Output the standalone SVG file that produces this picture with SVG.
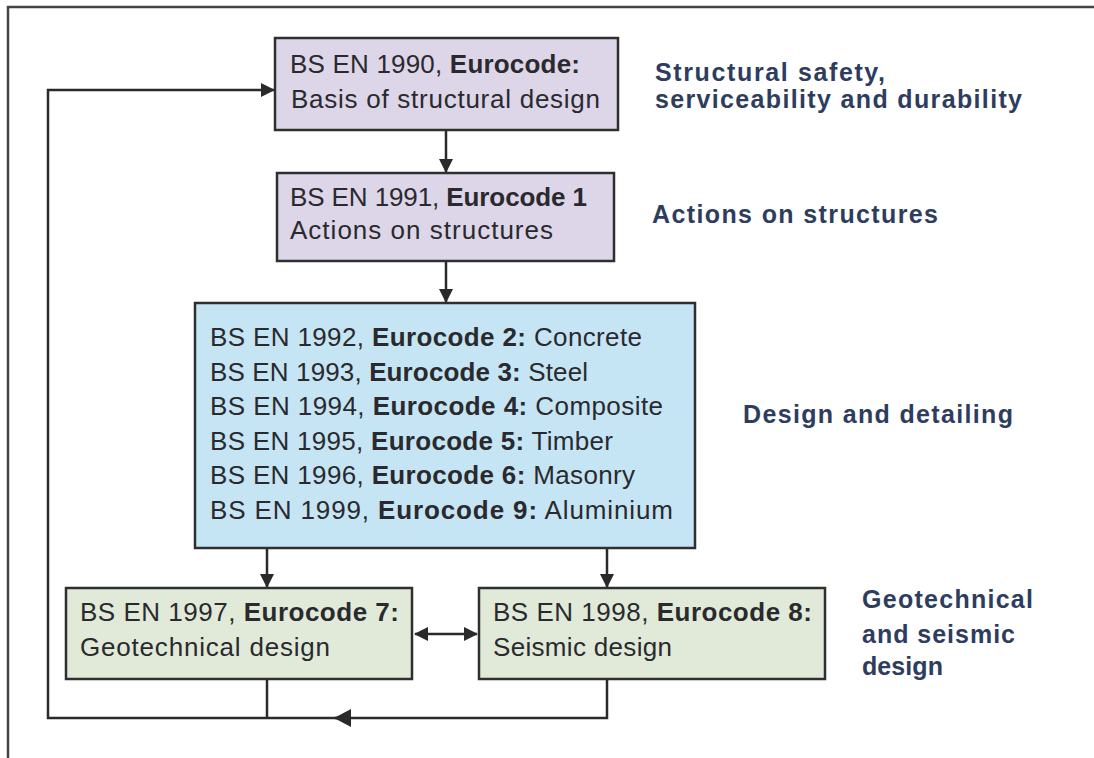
<svg xmlns="http://www.w3.org/2000/svg" width="1094" height="758" viewBox="0 0 1094 758">
<defs>
<style>
.box{stroke:#2f2f2f;stroke-width:2.5}
.t{font-family:"Liberation Sans",Arial,sans-serif;font-size:26px;fill:#2a2a2e}
.b{font-weight:bold}
.lbl{font-family:"Liberation Sans",Arial,sans-serif;font-size:25px;font-weight:bold;fill:#2e3d5e}
.ln{fill:none;stroke:#2a2a2a;stroke-width:2.5}
</style>
<marker id="ah" viewBox="0 0 14 14" refX="13" refY="7" markerWidth="14" markerHeight="14" markerUnits="userSpaceOnUse" orient="auto-start-reverse">
<path d="M0,0 L14,7 L0,14 Z" fill="#2a2a2a"/>
</marker>
</defs>
<rect x="0" y="0" width="1094" height="758" fill="#ffffff"/>
<g id="frame">
<path d="M8,758 V7 H1094" fill="none" stroke="#444" stroke-width="2.5"/>
</g>
<g id="connectors">
<path class="ln" d="M446,131 V172" marker-end="url(#ah)"/>
<path class="ln" d="M446,262 V302" marker-end="url(#ah)"/>
<path class="ln" d="M267,549 V587" marker-end="url(#ah)"/>
<path class="ln" d="M607,549 V587" marker-end="url(#ah)"/>
<path class="ln" d="M415,634 H477" marker-start="url(#ah)" marker-end="url(#ah)"/>
<path class="ln" d="M267,679 V718"/>
<path class="ln" d="M607,679 V718 H335"/>
<path d="M334,718 L351,709 L351,727 Z" fill="#2a2a2a"/>
<path class="ln" d="M351,718 H48 V90 H274" marker-end="url(#ah)"/>
</g>
<g id="n1990">
<rect class="box" x="275" y="38" width="343" height="92" fill="#dcd6e8"/>
<text class="t" x="290" y="73" textLength="290" lengthAdjust="spacing">BS EN 1990, <tspan class="b">Eurocode:</tspan></text>
<text class="t" x="291" y="108" textLength="309" lengthAdjust="spacing">Basis of structural design</text>
</g>
<g id="n1991">
<rect class="box" x="277" y="173" width="337" height="88" fill="#dcd6e8"/>
<text class="t" x="290" y="206" textLength="297" lengthAdjust="spacing">BS EN 1991, <tspan class="b">Eurocode 1</tspan></text>
<text class="t" x="290" y="239" textLength="263" lengthAdjust="spacing">Actions on structures</text>
</g>
<g id="n1992">
<rect class="box" x="195" y="303" width="500" height="245" fill="#c6e5f4"/>
<text class="t" x="210" y="346" textLength="432" lengthAdjust="spacing">BS EN 1992, <tspan class="b">Eurocode 2:</tspan> Concrete</text>
<text class="t" x="210" y="381" textLength="378" lengthAdjust="spacing">BS EN 1993, <tspan class="b">Eurocode 3:</tspan> Steel</text>
<text class="t" x="210" y="415" textLength="453" lengthAdjust="spacing">BS EN 1994, <tspan class="b">Eurocode 4:</tspan> Composite</text>
<text class="t" x="210" y="450" textLength="403" lengthAdjust="spacing">BS EN 1995, <tspan class="b">Eurocode 5:</tspan> Timber</text>
<text class="t" x="210" y="484" textLength="425" lengthAdjust="spacing">BS EN 1996, <tspan class="b">Eurocode 6:</tspan> Masonry</text>
<text class="t" x="210" y="519" textLength="463" lengthAdjust="spacing">BS EN 1999, <tspan class="b">Eurocode 9:</tspan>  Aluminium</text>
</g>
<g id="n1997">
<rect class="box" x="66" y="588" width="346" height="91" fill="#e1ead8"/>
<text class="t" x="80" y="621" textLength="319" lengthAdjust="spacing">BS EN 1997, <tspan class="b">Eurocode 7:</tspan></text>
<text class="t" x="80" y="656" textLength="250" lengthAdjust="spacing">Geotechnical design</text>
</g>
<g id="n1998">
<rect class="box" x="479" y="588" width="346" height="91" fill="#e1ead8"/>
<text class="t" x="493" y="621" textLength="319" lengthAdjust="spacing">BS EN 1998, <tspan class="b">Eurocode 8:</tspan></text>
<text class="t" x="493" y="656" textLength="179" lengthAdjust="spacing">Seismic design</text>
</g>
<g id="labels">
<text class="lbl" x="655" y="81" textLength="230" lengthAdjust="spacing">Structural safety,</text>
<text class="lbl" x="655" y="108" textLength="367" lengthAdjust="spacing">serviceability and durability</text>
<text class="lbl" x="652" y="223" textLength="286" lengthAdjust="spacing">Actions on structures</text>
<text class="lbl" x="743" y="423" textLength="270" lengthAdjust="spacing">Design and detailing</text>
<text class="lbl" x="862" y="608" textLength="171" lengthAdjust="spacing">Geotechnical</text>
<text class="lbl" x="862" y="643" textLength="153" lengthAdjust="spacing">and seismic</text>
<text class="lbl" x="862" y="675" textLength="81" lengthAdjust="spacing">design</text>
</g>
</svg>
